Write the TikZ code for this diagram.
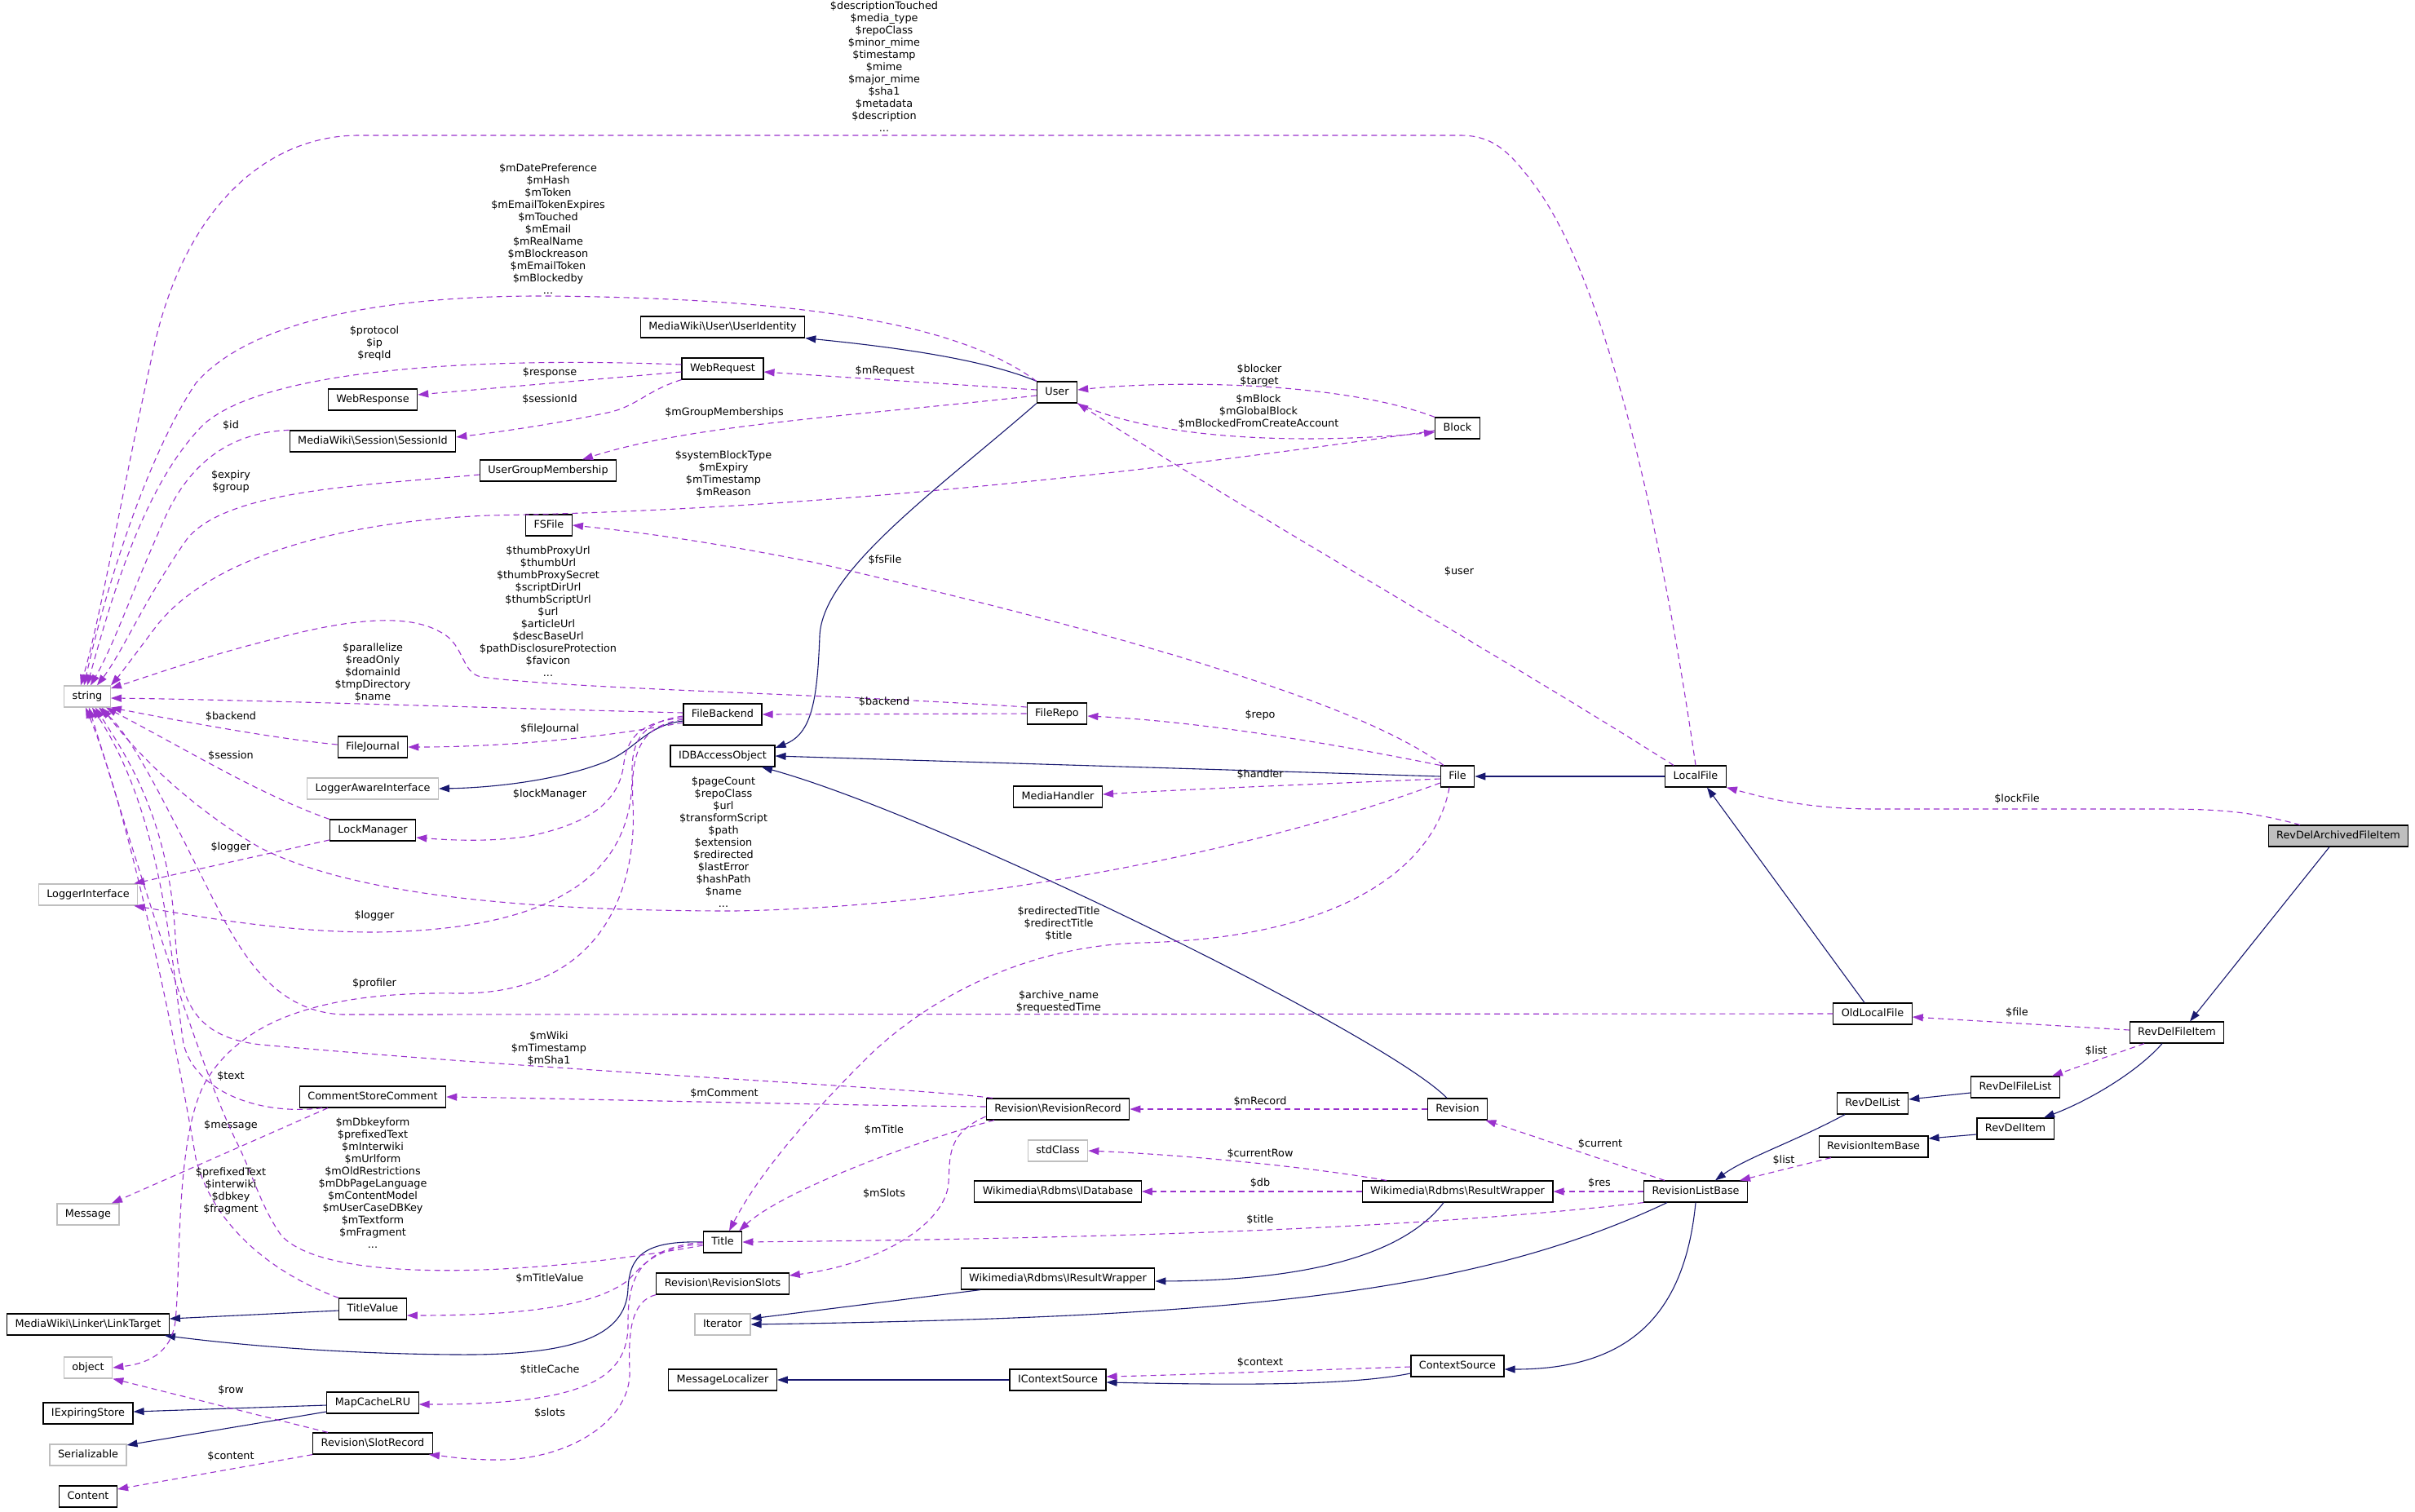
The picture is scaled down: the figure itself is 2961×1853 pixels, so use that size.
\documentclass[tikz,border=0pt]{standalone}
\usepackage{fontspec}
\setmainfont{DejaVu Sans}
\usetikzlibrary{arrows.meta}
\definecolor{inhc}{HTML}{191970}
\definecolor{assc}{HTML}{9A32CD}
\definecolor{grayb}{HTML}{BFBFBF}
\begin{document}
\begin{tikzpicture}[x=1pt,y=-1pt,
  every node/.style={font=\fontsize{12.8}{15}\selectfont},
  cls/.style={draw=black,line width=1.2pt,fill=white,minimum height=26pt,inner xsep=10pt,inner ysep=2pt,text height=9.5pt,text depth=2.8pt},
  ext/.style={cls,draw=grayb},
  cur/.style={cls,fill=grayb},
  lbl/.style={align=center,inner sep=0pt},
  inh/.style={draw=inhc,line width=1.1pt,-{Triangle[length=13pt,width=9pt]}},
  ass/.style={draw=assc,line width=1.1pt,dash pattern=on 7pt off 5pt,-{Triangle[length=13pt,width=9pt]}}]
\fill[white] (0,0) rectangle (2961,1853);
\path[use as bounding box] (0,0) rectangle (2961,1853);
% nodes
\node[cur] (rdafi) at (2867,1025) {RevDelArchivedFileItem};
\node[cls] (localfile) at (2079,952) {LocalFile};
\node[cls] (revdelfileitem) at (2669,1266) {RevDelFileItem};
\node[cls] (oldlocalfile) at (2296,1243) {OldLocalFile};
\node[cls] (revdelfilelist) at (2471,1333) {RevDelFileList};
\node[cls] (revdellist) at (2296,1353) {RevDelList};
\node[cls] (revdelitem) at (2471,1384) {RevDelItem};
\node[cls] (revisionitembase) at (2297,1406) {RevisionItemBase};
\node[cls] (rlb) at (2079,1461) {RevisionListBase};
\node[cls] (file) at (1787,952) {File};
\node[cls] (user) at (1296,481) {User};
\node[cls] (block) at (1787,525) {Block};
\node[cls] (revision) at (1787,1360) {Revision};
\node[cls] (resultwrapper) at (1787,1461) {Wikimedia\textbackslash Rdbms\textbackslash ResultWrapper};
\node[cls] (contextsource) at (1787,1675) {ContextSource};
\node[cls] (filerepo) at (1296,875) {FileRepo};
\node[cls] (mediahandler) at (1297,977) {MediaHandler};
\node[cls] (revisionrecord) at (1297,1360) {Revision\textbackslash RevisionRecord};
\node[ext] (stdclass) at (1297,1411) {stdClass};
\node[cls] (idatabase) at (1297,1461) {Wikimedia\textbackslash Rdbms\textbackslash IDatabase};
\node[cls] (iresultwrapper) at (1297,1568) {Wikimedia\textbackslash Rdbms\textbackslash IResultWrapper};
\node[cls] (icontextsource) at (1297,1692) {IContextSource};
\node[cls] (useridentity) at (886,401) {MediaWiki\textbackslash User\textbackslash UserIdentity};
\node[cls] (webrequest) at (886,452) {WebRequest};
\node[cls] (filebackend) at (886,876) {FileBackend};
\node[cls] (idbaccessobject) at (886,927) {IDBAccessObject};
\node[cls] (title) at (886,1523) {Title};
\node[cls] (revisionslots) at (886,1574) {Revision\textbackslash RevisionSlots};
\node[ext] (iterator) at (886,1624) {Iterator};
\node[cls] (messagelocalizer) at (886,1692) {MessageLocalizer};
\node[cls] (ugm) at (672,577) {UserGroupMembership};
\node[cls] (fsfile) at (673,644) {FSFile};
\node[cls] (webresponse) at (457,490) {WebResponse};
\node[cls] (sessionid) at (457,541) {MediaWiki\textbackslash Session\textbackslash SessionId};
\node[cls] (filejournal) at (457,916) {FileJournal};
\node[ext] (loggeraware) at (457,967) {LoggerAwareInterface};
\node[cls] (lockmanager) at (457,1018) {LockManager};
\node[cls] (csc) at (457,1345) {CommentStoreComment};
\node[cls] (titlevalue) at (457,1605) {TitleValue};
\node[cls] (mapcachelru) at (457,1720) {MapCacheLRU};
\node[cls] (slotrecord) at (457,1770) {Revision\textbackslash SlotRecord};
\node[ext] (string) at (107,854) {string};
\node[ext] (loggerinterface) at (108,1097) {LoggerInterface};
\node[ext] (message) at (108,1489) {Message};
\node[cls] (linktarget) at (108,1624) {MediaWiki\textbackslash Linker\textbackslash LinkTarget};
\node[ext] (object) at (108,1677) {object};
\node[cls] (iexpiringstore) at (108,1733) {IExpiringStore};
\node[ext] (serializable) at (108,1784) {Serializable};
\node[cls] (content) at (108,1835) {Content};
% inheritance
\draw[inh] (user.north west) .. controls (1200,438) and (1080,424) .. (useridentity.south east);
\draw[inh] (user.south west) .. controls (1150,600) and (1008,700) .. (1005,780) .. controls (1002,860) and (995,900) .. ([yshift=10pt]idbaccessobject.east);
\draw[inh] (file.west) -- (idbaccessobject.east);
\draw[inh] ([xshift=-13pt]revision.north) .. controls (1700,1270) and (1150,1000) .. ([xshift=48pt]idbaccessobject.south);
\draw[inh] (localfile.west) -- (file.east);
\draw[inh] ([xshift=-10pt]oldlocalfile.north) -- ([xshift=14pt]localfile.south);
\draw[inh] ([xshift=-11pt]rdafi.south) -- ([xshift=16pt]revdelfileitem.north);
\draw[inh] ([xshift=-18pt]revdelfileitem.south) .. controls (2620,1315) and (2560,1350) .. ([xshift=35pt]revdelitem.north);
\draw[inh] ([yshift=-7pt]revdelfilelist.west) -- ([yshift=5pt]revdellist.east);
\draw[inh] ([yshift=-7pt]revdelitem.west) -- ([yshift=10pt]revisionitembase.east);
\draw[inh] ([xshift=-34pt]revdellist.south) .. controls (2200,1400) and (2140,1420) .. ([xshift=24pt]rlb.north);
\draw[inh] (rlb.south) .. controls (2065,1620) and (1990,1679) .. ([yshift=-4pt]contextsource.east);
\draw[inh] ([yshift=-9pt]contextsource.west) .. controls (1650,1700) and (1500,1698) .. ([yshift=-3pt]icontextsource.east);
\draw[inh] (icontextsource.west) -- (messagelocalizer.east);
\draw[inh] ([xshift=-17pt]resultwrapper.south) .. controls (1720,1540) and (1600,1570) .. ([yshift=-3pt]iresultwrapper.east);
\draw[inh] ([xshift=-95pt]iresultwrapper.south) -- ([yshift=7pt]iterator.east);
\draw[inh] ([xshift=-35pt]rlb.south) .. controls (1800,1590) and (1500,1615) .. (iterator.east);
\draw[inh] ([yshift=-2pt]titlevalue.west) -- ([yshift=7pt]linktarget.east);
\draw[inh] (title.west) .. controls (790,1521) and (772,1540) .. (770,1580) .. controls (768,1640) and (700,1662) .. (560,1661) .. controls (420,1660) and (300,1650) .. ([xshift=-6pt]linktarget.south east);
\draw[inh] ([yshift=-8pt]filebackend.west) .. controls (790,890) and (780,920) .. (740,935) .. controls (680,958) and (600,966) .. (loggeraware.east);
\draw[inh] ([yshift=-3pt]mapcachelru.west) -- ([yshift=2pt]iexpiringstore.east);
\draw[inh] ([yshift=-11pt]mapcachelru.west) -- ([yshift=12pt]serializable.east);
% associations
\draw[ass] (localfile.north) .. controls (2030,600) and (1960,330) .. (1880,225) .. controls (1850,185) and (1830,166) .. (1790,166) -- (440,166) .. controls (330,166) and (230,250) .. (190,420) .. controls (150,600) and (125,750) .. ([xshift=-8pt]string.north);
\node[lbl] (la) at (1084,82) {\$descriptionTouched\\\$media\_type\\\$repoClass\\\$minor\_mime\\\$timestamp\\\$mime\\\$major\_mime\\\$sha1\\\$metadata\\\$description\\...};
\draw[ass] (user.north west) .. controls (1180,400) and (1000,366) .. (672,363) .. controls (450,362) and (300,400) .. (240,470) .. controls (180,560) and (130,720) .. ([xshift=-4pt]string.north);
\node[lbl] (lb) at (672,281) {\$mDatePreference\\\$mHash\\\$mToken\\\$mEmailTokenExpires\\\$mTouched\\\$mEmail\\\$mRealName\\\$mBlockreason\\\$mEmailToken\\\$mBlockedby\\...};
\draw[ass] ([yshift=5pt]webrequest.west) .. controls (600,438) and (330,450) .. (250,520) .. controls (180,590) and (140,720) .. (string.north);
\node[lbl] (lc) at (459,421) {\$protocol\\\$ip\\\$reqId};
\draw[ass] ([yshift=-4pt]webrequest.west) -- ([yshift=6pt]webresponse.east);
\node[lbl] (ld) at (674,457) {\$response};
\draw[ass] (webrequest.south west) .. controls (790,480) and (780,500) .. (740,507) .. controls (680,520) and (610,530) .. ([yshift=5pt]sessionid.east);
\node[lbl] (le) at (674,490) {\$sessionId};
\draw[ass] (sessionid.north west) .. controls (280,530) and (230,570) .. (200,640) .. controls (160,730) and (140,790) .. ([xshift=4pt]string.north);
\node[lbl] (lf) at (283,522) {\$id};
\draw[ass] ([yshift=3pt]user.west) -- ([yshift=-4pt]webrequest.east);
\node[lbl] (lg) at (1085,455) {\$mRequest};
\draw[ass] ([yshift=-4pt]user.west) .. controls (1050,510) and (850,520) .. ([xshift=42pt]ugm.north);
\node[lbl] (lh) at (888,506) {\$mGroupMemberships};
\draw[ass] ([yshift=-5pt]ugm.west) .. controls (450,595) and (280,600) .. (230,660) .. controls (180,730) and (150,800) .. ([xshift=12pt]string.north);
\node[lbl] (li) at (283,590) {\$expiry\\\$group};
\draw[ass] ([yshift=-3pt]block.west) .. controls (1400,580) and (1000,625) .. (600,632) .. controls (400,640) and (250,690) .. (190,770) .. controls (160,810) and (145,830) .. (string.north east);
\node[lbl] (lj) at (887,581) {\$systemBlockType\\\$mExpiry\\\$mTimestamp\\\$mReason};
\draw[ass] (user.south east) .. controls (1420,540) and (1600,545) .. ([yshift=-5pt]block.west);
\node[lbl] (lk) at (1543,505) {\$mBlock\\\$mGlobalBlock\\\$mBlockedFromCreateAccount};
\draw[ass] (block.north west) .. controls (1650,470) and (1450,465) .. ([yshift=3pt]user.east);
\node[lbl] (ll) at (1544,460) {\$blocker\\\$target};
\draw[ass] ([xshift=-27pt]localfile.north) .. controls (1850,810) and (1550,640) .. (user.south east);
\node[lbl] (lm) at (1789,701) {\$user};
\draw[ass] ([xshift=-17pt]file.north) .. controls (1650,850) and (1300,760) .. (1000,690) .. controls (850,660) and (760,650) .. (fsfile.east);
\node[lbl] (ln) at (1085,687) {\$fsFile};
\draw[ass] ([yshift=8pt]filerepo.west) .. controls (1000,850) and (700,845) .. (590,830) .. controls (565,825) and (570,790) .. (540,775) .. controls (500,752) and (430,758) .. (330,785) .. controls (250,805) and (180,830) .. ([yshift=10pt]string.east);
\node[lbl] (lo) at (672,750) {\$thumbProxyUrl\\\$thumbUrl\\\$thumbProxySecret\\\$scriptDirUrl\\\$thumbScriptUrl\\\$url\\\$articleUrl\\\$descBaseUrl\\\$pathDisclosureProtection\\\$favicon\\...};
\draw[ass] ([yshift=2pt]filebackend.west) .. controls (600,868) and (300,858) .. ([yshift=-2pt]string.east);
\node[lbl] (lp) at (457,825) {\$parallelize\\\$readOnly\\\$domainId\\\$tmpDirectory\\\$name};
\draw[ass] (filerepo.west) -- (filebackend.east);
\node[lbl] (lq) at (1084,861) {\$backend};
\draw[ass] (file.north west) .. controls (1650,915) and (1480,885) .. ([yshift=-3pt]filerepo.east);
\node[lbl] (lr) at (1545,877) {\$repo};
\draw[ass] ([yshift=-3pt]file.west) .. controls (1600,962) and (1450,968) .. ([yshift=3pt]mediahandler.east);
\node[lbl] (lhd) at (1545,950) {\$handler};
\draw[ass] ([yshift=-10pt]filebackend.west) .. controls (720,908) and (600,916) .. (filejournal.east);
\node[lbl] (ls) at (674,894) {\$fileJournal};
\draw[ass] ([yshift=3pt]filejournal.west) .. controls (330,905) and (200,880) .. (string.south east);
\node[lbl] (lt) at (283,879) {\$backend};
\draw[ass] ([yshift=-4pt]filebackend.west) .. controls (790,885) and (770,900) .. (765,935) .. controls (760,985) and (720,1010) .. (650,1025) .. controls (600,1033) and (550,1030) .. ([yshift=-9pt]lockmanager.east);
\node[lbl] (lu) at (674,974) {\$lockManager};
\draw[ass] (lockmanager.north west) .. controls (320,975) and (230,920) .. ([xshift=-6pt]string.south east);
\node[lbl] (lv) at (283,927) {\$session};
\draw[ass] ([yshift=-12pt]lockmanager.west) -- ([xshift=-5pt]loggerinterface.north east);
\node[lbl] (lw) at (283,1039) {\$logger};
\draw[ass] ([yshift=-2pt]filebackend.west) .. controls (790,885) and (775,905) .. (775,945) .. controls (778,1060) and (700,1140) .. (460,1143) .. controls (350,1143) and (250,1125) .. ([xshift=-5pt]loggerinterface.south east);
\node[lbl] (lx) at (459,1123) {\$logger};
\draw[ass] ([yshift=-8pt]file.west) .. controls (1550,1040) and (1200,1112) .. (900,1117) .. controls (600,1117) and (420,1090) .. (320,1040) .. controls (250,1000) and (180,940) .. ([xshift=18pt]string.south);
\node[lbl] (ly) at (887,1033) {\$pageCount\\\$repoClass\\\$url\\\$transformScript\\\$path\\\$extension\\\$redirected\\\$lastError\\\$hashPath\\\$name\\...};
\draw[ass] ([yshift=-6pt]filebackend.west) .. controls (790,890) and (772,915) .. (776,985) .. controls (782,1100) and (730,1220) .. (560,1218) .. controls (420,1216) and (300,1240) .. (250,1330) .. controls (215,1400) and (222,1550) .. (215,1620) .. controls (210,1660) and (180,1672) .. (object.east);
\node[lbl] (lz) at (459,1206) {\$profiler};
\draw[ass] (oldlocalfile.west) -- (420,1244) .. controls (330,1240) and (290,1160) .. (250,1080) .. controls (200,980) and (160,900) .. ([xshift=14pt]string.south);
\node[lbl] (laa) at (1298,1228) {\$archive\_name\\\$requestedTime};
\draw[ass] ([yshift=3pt]revdelfileitem.west) -- ([yshift=-4pt]oldlocalfile.east);
\node[lbl] (lbb) at (2473,1242) {\$file};
\draw[ass] ([xshift=-47pt]rdafi.north) .. controls (2760,995) and (2720,992) .. (2650,992) -- (2300,992) .. controls (2220,992) and (2170,980) .. (localfile.south east);
\node[lbl] (lcc) at (2473,980) {\$lockFile};
\draw[ass] ([xshift=-40pt]revdelfileitem.south) -- ([xshift=45pt]revdelfilelist.north);
\node[lbl] (ldd) at (2570,1289) {\$list};
\draw[ass] ([xshift=-52pt]revisionitembase.south) -- ([xshift=54pt]rlb.north);
\node[lbl] (lee) at (2187,1423) {\$list};
\draw[ass] ([xshift=-38pt]rlb.north) -- ([xshift=-3pt]revision.south east);
\node[lbl] (lff) at (1962,1403) {\$current};
\draw[ass] (rlb.west) -- (resultwrapper.east);
\node[lbl] (lgg) at (1961,1451) {\$res};
\draw[ass] (rlb.south west) .. controls (1750,1505) and (1400,1518) .. (title.east);
\node[lbl] (lhh) at (1545,1496) {\$title};
\draw[ass] ([xshift=-87pt]resultwrapper.north) .. controls (1600,1430) and (1450,1416) .. (stdclass.east);
\node[lbl] (lii) at (1545,1415) {\$currentRow};
\draw[ass] (resultwrapper.west) -- (idatabase.east);
\node[lbl] (ljj) at (1545,1451) {\$db};
\draw[ass] (revision.west) -- (revisionrecord.east);
\node[lbl] (lkk) at (1545,1351) {\$mRecord};
\draw[ass] ([xshift=-80pt]revisionrecord.north) .. controls (1100,1332) and (700,1315) .. (320,1281) .. controls (240,1272) and (220,1230) .. (215,1150) .. controls (208,1000) and (150,920) .. ([xshift=10pt]string.south);
\node[lbl] (lll) at (673,1286) {\$mWiki\\\$mTimestamp\\\$mSha1};
\draw[ass] ([yshift=3pt]revisionrecord.west) .. controls (1000,1355) and (700,1347) .. (csc.east);
\node[lbl] (lmm) at (888,1341) {\$mComment};
\draw[ass] ([xshift=-78pt]revisionrecord.south) .. controls (1120,1400) and (960,1460) .. ([xshift=20pt]title.north);
\node[lbl] (lnn) at (1084,1386) {\$mTitle};
\draw[ass] ([yshift=-9pt]revisionrecord.west) .. controls (1160,1390) and (1165,1420) .. (1163,1450) .. controls (1160,1500) and (1080,1550) .. ([yshift=10pt]revisionslots.east);
\node[lbl] (loo) at (1084,1464) {\$mSlots};
\draw[ass] ([xshift=-10pt]file.south) .. controls (1760,1060) and (1650,1150) .. (1400,1156) .. controls (1250,1160) and (1130,1230) .. (1060,1300) .. controls (990,1370) and (930,1440) .. ([xshift=8pt]title.north);
\node[lbl] (lpp) at (1298,1133) {\$redirectedTitle\\\$redirectTitle\\\$title};
\draw[ass] ([xshift=-62pt]csc.south) .. controls (320,1368) and (240,1340) .. (225,1280) .. controls (210,1180) and (200,1000) .. ([xshift=6pt]string.south);
\node[lbl] (lqq) at (283,1320) {\$text};
\draw[ass] ([xshift=-55pt]csc.south) -- ([xshift=29pt]message.north);
\node[lbl] (lrr) at (283,1380) {\$message};
\draw[ass] ([yshift=-4pt]title.west) .. controls (650,1565) and (400,1575) .. (345,1515) .. controls (320,1480) and (310,1440) .. (290,1400) .. controls (240,1300) and (150,1000) .. ([xshift=2pt]string.south);
\node[lbl] (lss) at (457,1451) {\$mDbkeyform\\\$prefixedText\\\$mInterwiki\\\$mUrlform\\\$mOldRestrictions\\\$mDbPageLanguage\\\$mContentModel\\\$mUserCaseDBKey\\\$mTextform\\\$mFragment\\...};
\draw[ass] (titlevalue.north west) .. controls (330,1560) and (260,1500) .. (240,1420) .. controls (220,1300) and (160,1000) .. ([xshift=-2pt]string.south);
\node[lbl] (ltt) at (283,1460) {\$prefixedText\\\$interwiki\\\$dbkey\\\$fragment};
\draw[ass] ([yshift=-2pt]title.west) .. controls (800,1530) and (785,1555) .. (770,1570) .. controls (730,1600) and (650,1613) .. ([yshift=-8pt]titlevalue.east);
\node[lbl] (luu) at (674,1568) {\$mTitleValue};
\draw[ass] (title.west) .. controls (790,1530) and (770,1560) .. (770,1620) .. controls (772,1690) and (720,1722) .. ([yshift=-2pt]mapcachelru.east);
\node[lbl] (lvv) at (674,1680) {\$titleCache};
\draw[ass] (revisionslots.south west) .. controls (775,1595) and (770,1630) .. (772,1680) .. controls (775,1740) and (700,1790) .. (610,1790) .. controls (570,1790) and (550,1786) .. ([xshift=-5pt]slotrecord.south east);
\node[lbl] (lww) at (674,1733) {\$slots};
\draw[ass] ([xshift=-55pt]slotrecord.north) -- (object.south east);
\node[lbl] (lxx) at (283,1705) {\$row};
\draw[ass] (slotrecord.south west) -- ([yshift=9pt]content.east);
\node[lbl] (lyy) at (283,1786) {\$content};
\draw[ass] ([yshift=-1pt]contextsource.west) .. controls (1600,1680) and (1450,1686) .. ([yshift=4pt]icontextsource.east);
\node[lbl] (lzz) at (1545,1671) {\$context};
\end{tikzpicture}
\end{document}
